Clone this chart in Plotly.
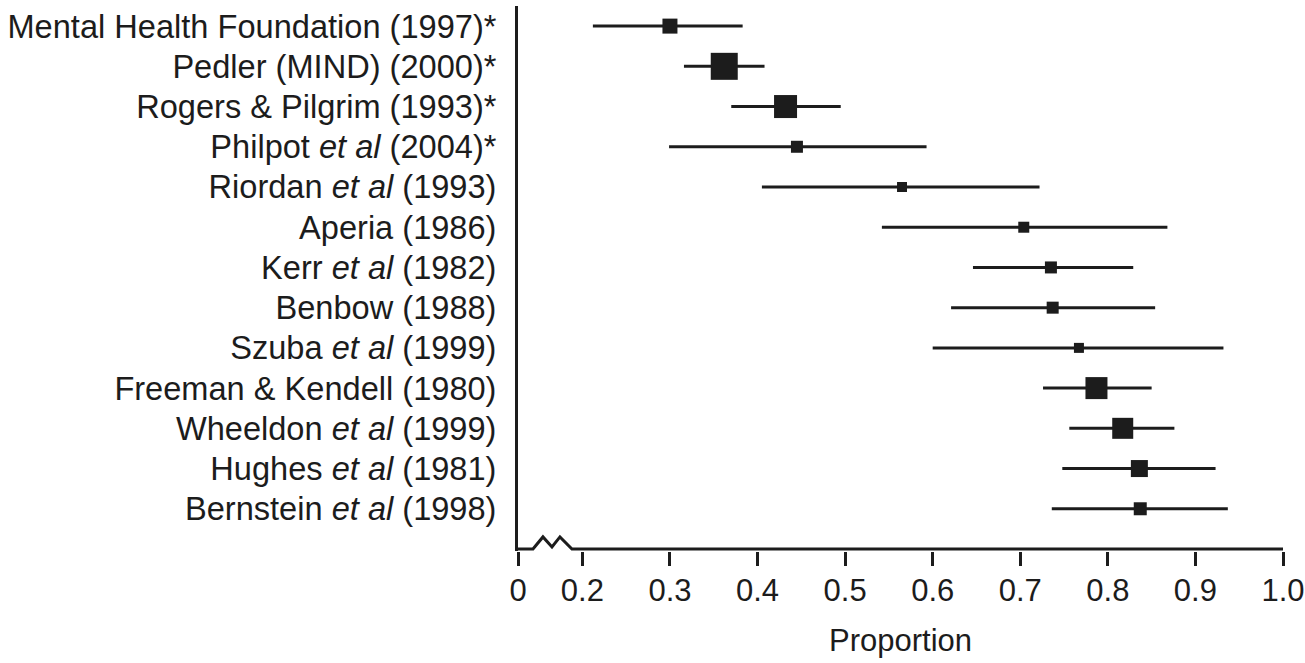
import plotly.graph_objects as go

# ---- data ----
studies = [
    "Mental Health Foundation (1997)*",
    "Pedler (MIND) (2000)*",
    "Rogers &amp; Pilgrim (1993)*",
    "Philpot <i>et al</i> (2004)*",
    "Riordan <i>et al</i> (1993)",
    "Aperia (1986)",
    "Kerr <i>et al</i> (1982)",
    "Benbow (1988)",
    "Szuba <i>et al</i> (1999)",
    "Freeman &amp; Kendell (1980)",
    "Wheeldon <i>et al</i> (1999)",
    "Hughes <i>et al</i> (1981)",
    "Bernstein <i>et al</i> (1998)",
]
estimate = [0.300, 0.362, 0.432, 0.445, 0.565, 0.704, 0.735, 0.737, 0.767, 0.787, 0.817, 0.836, 0.837]
ci_low   = [0.212, 0.316, 0.370, 0.299, 0.405, 0.542, 0.646, 0.621, 0.600, 0.726, 0.756, 0.748, 0.736]
ci_high  = [0.383, 0.408, 0.495, 0.593, 0.722, 0.868, 0.829, 0.854, 0.932, 0.850, 0.876, 0.923, 0.937]
weight   = [15, 27, 23, 12, 10, 11, 12, 12, 10, 22, 21, 17, 13]   # relative study weight (box size)

tick_labels = ["0", "0.2", "0.3", "0.4", "0.5", "0.6", "0.7", "0.8", "0.9", "1.0"]
tick_values = [0.2, 0.3, 0.4, 0.5, 0.6, 0.7, 0.8, 0.9, 1.0]

# ---- styling / layout constants ----
BREAK_POS = 0.1265          # where "0" sits on the broken axis
INK = "#1c1c1c"
FONT = "Liberation Sans, Arial, Helvetica, sans-serif"
AXIS_ROW = len(studies) + 1  # y position of horizontal axis line
# zigzag axis-break path (x in axis units, y offsets in row units)
BREAK_X = [BREAK_POS, 0.1436, 0.155, 0.1653, 0.1744, 0.1881, 1.0]
BREAK_DY = [0, 0, -0.30, -0.05, -0.30, 0, 0]

rows = list(range(1, len(studies) + 1))

fig = go.Figure()

fig.add_trace(go.Scatter(
    x=estimate, y=rows, mode="markers",
    marker=dict(symbol="square", size=weight, color=INK, opacity=1, line=dict(width=0)),
    error_x=dict(type="data", symmetric=False,
                 array=[h - e for h, e in zip(ci_high, estimate)],
                 arrayminus=[e - l for e, l in zip(estimate, ci_low)],
                 color=INK, thickness=3, width=0),
    showlegend=False, hoverinfo="skip",
))

# horizontal axis line with the break
fig.add_trace(go.Scatter(
    x=BREAK_X, y=[AXIS_ROW + d for d in BREAK_DY], mode="lines",
    line=dict(color=INK, width=3), showlegend=False, hoverinfo="skip",
))

fig.update_layout(
    width=1305, height=663,
    margin=dict(l=518, r=22, t=6, b=112, autoexpand=False),
    paper_bgcolor="white", plot_bgcolor="white",
    font=dict(family=FONT, color=INK),
    xaxis=dict(
        range=[BREAK_POS, 1.0], automargin=False,
        tickvals=[BREAK_POS] + tick_values, ticktext=tick_labels,
        ticks="outside", ticklen=14, tickwidth=2.5, tickcolor=INK,
        ticklabelstandoff=-2,
        tickfont=dict(size=31, family=FONT, color=INK),
        showline=False, showgrid=False, zeroline=False,
        title=dict(text="Proportion", font=dict(size=31, family=FONT, color=INK), standoff=22),
    ),
    yaxis=dict(
        range=[AXIS_ROW + 0.05, 0.5], automargin=False,
        tickvals=rows, ticktext=studies,
        ticks="", ticklabelstandoff=12,
        tickfont=dict(size=32.6, family=FONT, color=INK),
        showline=True, linewidth=3, linecolor=INK,
        showgrid=False, zeroline=False,
    ),
)

fig.write_html("out.html", config={"displayModeBar": False},
               post_script="document.body.style.margin='0';document.body.style.overflow='hidden';")
